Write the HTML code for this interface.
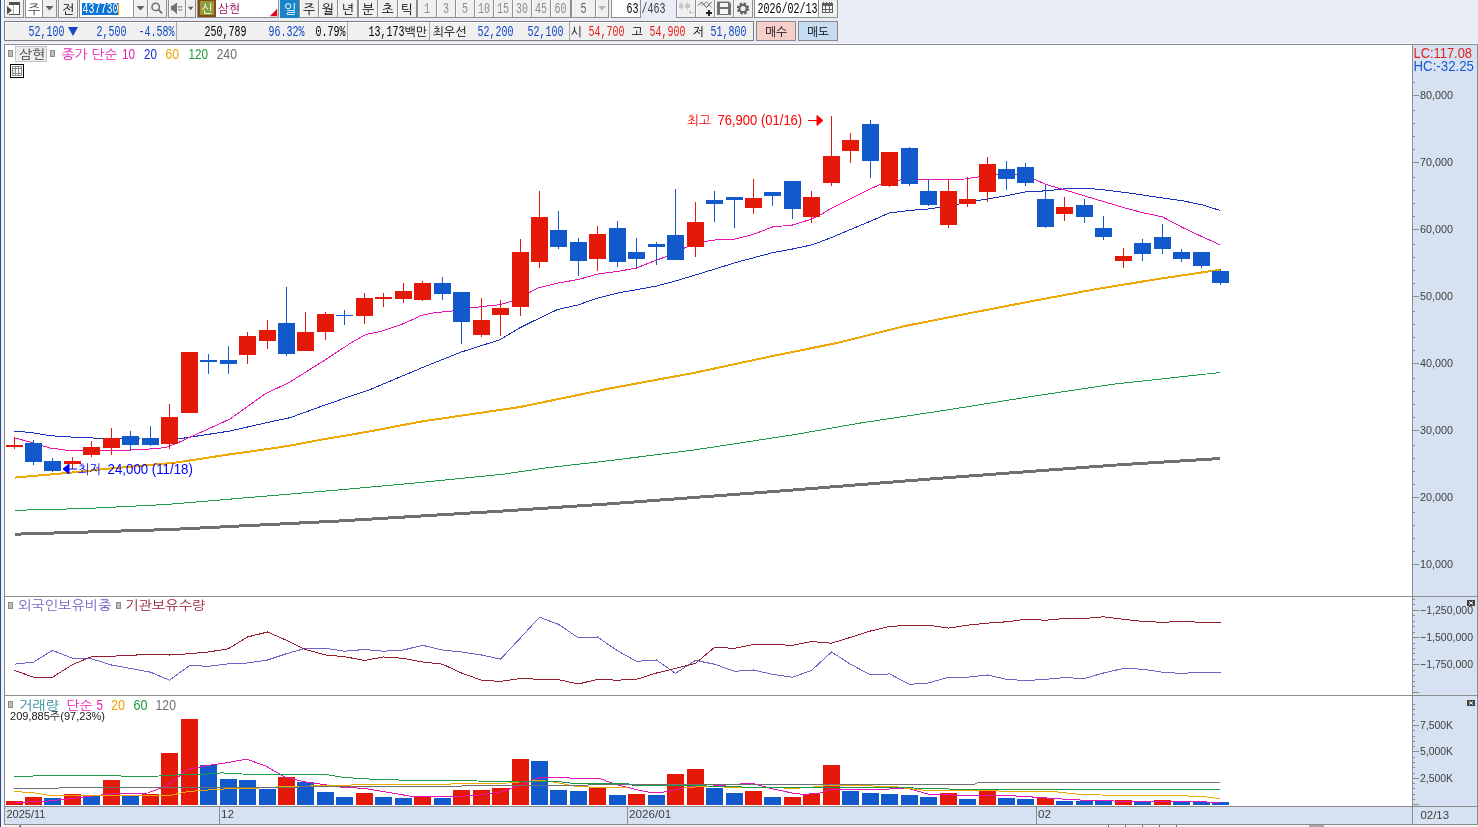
<!DOCTYPE html>
<html lang="ko"><head><meta charset="utf-8"><title>삼현 437730 일봉 차트</title>
<style>html,body{margin:0;padding:0;background:#e7ecf5;overflow:hidden}svg{display:block}text{white-space:pre}</style>
</head><body>
<svg width="1478" height="827" viewBox="0 0 1478 827" font-family='"Liberation Sans","NanumGothic","Noto Sans CJK KR",sans-serif' shape-rendering="crispEdges">
<rect x="0" y="0" width="1478" height="827" fill="#e7ecf5" />
<rect x="0" y="0" width="1" height="827" fill="#2a4a8c" />
<rect x="1" y="0" width="3" height="827" fill="#eef1f7" />
<rect x="4" y="-1" width="20" height="19" fill="#8e8e8e" />
<rect x="5" y="0" width="18" height="17" fill="#f0f0f0" />
<rect x="5" y="0" width="1" height="17" fill="#fbfbfb" />
<rect x="9" y="3" width="10" height="11" fill="#fff" />
<rect x="9" y="2" width="11" height="3" fill="#505050" />
<path d="M19 4h1v11H9v-1h10z" fill="#505050"/>
<rect x="13" y="5" width="1" height="9" fill="#b0b0b0" />
<path d="M7 6l5 4.300-5 4.300z" fill="#505050" shape-rendering="auto"/>
<rect x="25" y="-1" width="32" height="19" fill="#8e8e8e" />
<rect x="26" y="0" width="30" height="17" fill="#f0f0f0" />
<rect x="26" y="0" width="1" height="17" fill="#fbfbfb" />
<rect x="26" y="0" width="16" height="17" fill="#fff" />
<rect x="42" y="0" width="1" height="17" fill="#8e8e8e" />
<text x="34" y="13.5" font-size="13" fill="#404040" text-anchor="middle" >주</text>
<path d="M45.500 6h8l-4 4.500z" fill="#606060" shape-rendering="auto"/>
<rect x="58" y="-1" width="20" height="19" fill="#8e8e8e" />
<rect x="59" y="0" width="18" height="17" fill="#f0f0f0" />
<rect x="59" y="0" width="1" height="17" fill="#fbfbfb" />
<text x="68" y="13.5" font-size="13" fill="#000" text-anchor="middle" >전</text>
<rect x="79" y="-1" width="55" height="19" fill="#8e8e8e" />
<rect x="80" y="0" width="53" height="17" fill="#fff" />
<rect x="82" y="3" width="36" height="12" fill="#0b74d4" />
<rect x="118" y="3" width="1" height="12" fill="#ff8a00" />
<text x="82.5" y="13" font-size="14" fill="#fff" textLength="36" lengthAdjust="spacingAndGlyphs" font-family="Liberation Mono,monospace">437730</text>
<rect x="133" y="-1" width="15" height="19" fill="#8e8e8e" />
<rect x="134" y="0" width="13" height="17" fill="#f0f0f0" />
<rect x="134" y="0" width="1" height="17" fill="#fbfbfb" />
<path d="M136.500 6h8l-4 4.500z" fill="#606060" shape-rendering="auto"/>
<rect x="147" y="-1" width="20" height="19" fill="#8e8e8e" />
<rect x="148" y="0" width="18" height="17" fill="#f0f0f0" />
<rect x="148" y="0" width="1" height="17" fill="#fbfbfb" />
<g shape-rendering="auto" fill="none" stroke="#707070" stroke-width="1.500"><circle cx="155.700" cy="6.900" r="3.700"/><path d="M158.500 9.700l3.500 3.700" stroke-width="1.800"/></g>
<rect x="168" y="-1" width="18" height="19" fill="#8e8e8e" />
<rect x="169" y="0" width="16" height="17" fill="#f0f0f0" />
<rect x="169" y="0" width="1" height="17" fill="#fbfbfb" />
<rect x="185" y="-1" width="11" height="19" fill="#8e8e8e" />
<rect x="186" y="0" width="9" height="17" fill="#f0f0f0" />
<rect x="186" y="0" width="1" height="17" fill="#fbfbfb" />
<g shape-rendering="auto" fill="#707070"><path d="M171 5.700h1.500l4.500-3.200v11.500l-4.500-3.700h-1.500z"/><rect x="178.300" y="6" width="1.300" height="1.600"/><rect x="178.300" y="9" width="1.300" height="1.600"/><rect x="180.600" y="6" width="1.300" height="1.600"/><rect x="180.600" y="9" width="1.300" height="1.600"/><path d="M188 6.700h5.400l-2.700 3.500z" fill="#606060"/></g>
<rect x="197" y="-1" width="82" height="19" fill="#8e8e8e" />
<rect x="198" y="0" width="80" height="17" fill="#fff" />
<rect x="198" y="-1" width="18" height="18" fill="#8b4a12" />
<rect x="200" y="1" width="14" height="14" fill="#8c9c3c" />
<text x="207" y="12.5" font-size="12" fill="#fff" text-anchor="middle" >신</text>
<text x="218" y="12.5" font-size="12" fill="#960a50" textLength="22" lengthAdjust="spacingAndGlyphs" >삼현</text>
<path d="M277.200 8.800v7.400h-7.400z" fill="#e00a1e" shape-rendering="auto"/>
<rect x="280" y="-1" width="20" height="19" fill="#1a84c8" />
<rect x="281" y="0" width="18" height="17" fill="#1a84c8" />
<text x="290.0" y="13.5" font-size="13" fill="#fff" text-anchor="middle" >일</text>
<rect x="299" y="-1" width="20" height="19" fill="#8e8e8e" />
<rect x="300" y="0" width="18" height="17" fill="#f0f0f0" />
<rect x="300" y="0" width="1" height="17" fill="#fbfbfb" />
<text x="309.0" y="13.5" font-size="13" fill="#000" text-anchor="middle" >주</text>
<rect x="318" y="-1" width="20" height="19" fill="#8e8e8e" />
<rect x="319" y="0" width="18" height="17" fill="#f0f0f0" />
<rect x="319" y="0" width="1" height="17" fill="#fbfbfb" />
<text x="328.0" y="13.5" font-size="13" fill="#000" text-anchor="middle" >월</text>
<rect x="337" y="-1" width="21" height="19" fill="#8e8e8e" />
<rect x="338" y="0" width="19" height="17" fill="#f0f0f0" />
<rect x="338" y="0" width="1" height="17" fill="#fbfbfb" />
<text x="347.5" y="13.5" font-size="13" fill="#000" text-anchor="middle" >년</text>
<rect x="358" y="-1" width="20" height="19" fill="#8e8e8e" />
<rect x="359" y="0" width="18" height="17" fill="#f0f0f0" />
<rect x="359" y="0" width="1" height="17" fill="#fbfbfb" />
<text x="368.0" y="13.5" font-size="13" fill="#000" text-anchor="middle" >분</text>
<rect x="377" y="-1" width="21" height="19" fill="#8e8e8e" />
<rect x="378" y="0" width="19" height="17" fill="#f0f0f0" />
<rect x="378" y="0" width="1" height="17" fill="#fbfbfb" />
<text x="387.5" y="13.5" font-size="13" fill="#000" text-anchor="middle" >초</text>
<rect x="397" y="-1" width="20" height="19" fill="#8e8e8e" />
<rect x="398" y="0" width="18" height="17" fill="#f0f0f0" />
<rect x="398" y="0" width="1" height="17" fill="#fbfbfb" />
<text x="407.0" y="13.5" font-size="13" fill="#000" text-anchor="middle" >틱</text>
<rect x="417" y="-1" width="20" height="19" fill="#8e8e8e" />
<rect x="418" y="0" width="18" height="17" fill="#f0f0f0" />
<rect x="418" y="0" width="1" height="17" fill="#fbfbfb" />
<text x="424.0" y="13" font-size="14" fill="#8c8c8c" textLength="6" lengthAdjust="spacingAndGlyphs" font-family="Liberation Mono,monospace">1</text>
<rect x="436" y="-1" width="20" height="19" fill="#8e8e8e" />
<rect x="437" y="0" width="18" height="17" fill="#f0f0f0" />
<rect x="437" y="0" width="1" height="17" fill="#fbfbfb" />
<text x="443.0" y="13" font-size="14" fill="#8c8c8c" textLength="6" lengthAdjust="spacingAndGlyphs" font-family="Liberation Mono,monospace">3</text>
<rect x="455" y="-1" width="20" height="19" fill="#8e8e8e" />
<rect x="456" y="0" width="18" height="17" fill="#f0f0f0" />
<rect x="456" y="0" width="1" height="17" fill="#fbfbfb" />
<text x="462.0" y="13" font-size="14" fill="#8c8c8c" textLength="6" lengthAdjust="spacingAndGlyphs" font-family="Liberation Mono,monospace">5</text>
<rect x="474" y="-1" width="20" height="19" fill="#8e8e8e" />
<rect x="475" y="0" width="18" height="17" fill="#f0f0f0" />
<rect x="475" y="0" width="1" height="17" fill="#fbfbfb" />
<text x="478.0" y="13" font-size="14" fill="#8c8c8c" textLength="12" lengthAdjust="spacingAndGlyphs" font-family="Liberation Mono,monospace">10</text>
<rect x="493" y="-1" width="20" height="19" fill="#8e8e8e" />
<rect x="494" y="0" width="18" height="17" fill="#f0f0f0" />
<rect x="494" y="0" width="1" height="17" fill="#fbfbfb" />
<text x="497.0" y="13" font-size="14" fill="#8c8c8c" textLength="12" lengthAdjust="spacingAndGlyphs" font-family="Liberation Mono,monospace">15</text>
<rect x="512" y="-1" width="20" height="19" fill="#8e8e8e" />
<rect x="513" y="0" width="18" height="17" fill="#f0f0f0" />
<rect x="513" y="0" width="1" height="17" fill="#fbfbfb" />
<text x="516.0" y="13" font-size="14" fill="#8c8c8c" textLength="12" lengthAdjust="spacingAndGlyphs" font-family="Liberation Mono,monospace">30</text>
<rect x="531" y="-1" width="20" height="19" fill="#8e8e8e" />
<rect x="532" y="0" width="18" height="17" fill="#f0f0f0" />
<rect x="532" y="0" width="1" height="17" fill="#fbfbfb" />
<text x="535.0" y="13" font-size="14" fill="#8c8c8c" textLength="12" lengthAdjust="spacingAndGlyphs" font-family="Liberation Mono,monospace">45</text>
<rect x="550" y="-1" width="21" height="19" fill="#8e8e8e" />
<rect x="551" y="0" width="19" height="17" fill="#f0f0f0" />
<rect x="551" y="0" width="1" height="17" fill="#fbfbfb" />
<text x="554.5" y="13" font-size="14" fill="#8c8c8c" textLength="12" lengthAdjust="spacingAndGlyphs" font-family="Liberation Mono,monospace">60</text>
<rect x="571" y="-1" width="25" height="19" fill="#8e8e8e" />
<rect x="572" y="0" width="23" height="17" fill="#f0f0f0" />
<rect x="572" y="0" width="1" height="17" fill="#fbfbfb" />
<text x="580.5" y="13" font-size="14" fill="#606060" textLength="6" lengthAdjust="spacingAndGlyphs" font-family="Liberation Mono,monospace">5</text>
<rect x="595" y="-1" width="14" height="19" fill="#8e8e8e" />
<rect x="596" y="0" width="12" height="17" fill="#f0f0f0" />
<rect x="596" y="0" width="1" height="17" fill="#fbfbfb" />
<path d="M598 6h8l-4 4.500z" fill="#b4b4b4" shape-rendering="auto"/>
<rect x="611" y="-1" width="30" height="19" fill="#8e8e8e" />
<rect x="612" y="0" width="28" height="17" fill="#fff" />
<text x="626.5" y="13" font-size="14" fill="#000" textLength="12" lengthAdjust="spacingAndGlyphs" font-family="Liberation Mono,monospace">63</text>
<text x="641.5" y="13" font-size="14" fill="#404040" textLength="24" lengthAdjust="spacingAndGlyphs" font-family="Liberation Mono,monospace">/463</text>
<rect x="676" y="-1" width="20" height="19" fill="#8e8e8e" />
<rect x="677" y="0" width="18" height="17" fill="#f0f0f0" />
<rect x="677" y="0" width="1" height="17" fill="#fbfbfb" />
<rect x="695" y="-1" width="20" height="19" fill="#8e8e8e" />
<rect x="696" y="0" width="18" height="17" fill="#f0f0f0" />
<rect x="696" y="0" width="1" height="17" fill="#fbfbfb" />
<rect x="714" y="-1" width="20" height="19" fill="#8e8e8e" />
<rect x="715" y="0" width="18" height="17" fill="#f0f0f0" />
<rect x="715" y="0" width="1" height="17" fill="#fbfbfb" />
<rect x="733" y="-1" width="20" height="19" fill="#8e8e8e" />
<rect x="734" y="0" width="18" height="17" fill="#f0f0f0" />
<rect x="734" y="0" width="1" height="17" fill="#fbfbfb" />
<g fill="#c6c6c6"><rect x="679" y="4" width="4" height="4"/><rect x="681" y="2" width="1" height="8"/><rect x="685" y="4" width="5" height="4"/><rect x="687" y="2" width="1" height="8"/><path d="M688 12l3-2.500v2h2.500v1h-2.500v2z"/></g>
<g shape-rendering="auto" fill="none" stroke-width="1"><path d="M698 5.500l3.500-3.500 5 5.500 5-5.500" stroke="#505050"/><path d="M701.500 5.500l5-3.500 5 5.500" stroke="#8a8a8a"/></g>
<path d="M706 11.500h2v-2h2v2h2v2h-2v2h-2v-2h-2z" fill="#202020"/>
<g><path d="M717 1.500h12l2 2v11.500h-14z" fill="#707070" shape-rendering="auto"/><rect x="720" y="2.500" width="8" height="4" fill="#f4f4f4"/><rect x="720" y="9" width="8" height="5" fill="#f4f4f4"/></g>
<g shape-rendering="auto"><circle cx="743" cy="8.500" r="4.800" fill="none" stroke="#606060" stroke-width="2.600" stroke-dasharray="2.300 1.470"/><circle cx="743" cy="8.500" r="3.600" fill="none" stroke="#606060" stroke-width="2"/></g>
<rect x="754" y="-1" width="65" height="19" fill="#8e8e8e" />
<rect x="755" y="0" width="63" height="17" fill="#fff" />
<text x="757.5" y="13" font-size="14" fill="#000" textLength="60" lengthAdjust="spacingAndGlyphs" font-family="Liberation Mono,monospace">2026/02/13</text>
<rect x="818" y="-1" width="20" height="19" fill="#8e8e8e" />
<rect x="819" y="0" width="18" height="17" fill="#f0f0f0" />
<rect x="819" y="0" width="1" height="17" fill="#fbfbfb" />
<g fill="#606060"><rect x="822" y="3" width="11" height="10"/><rect x="823" y="2" width="1" height="1"/><rect x="826" y="2" width="1" height="1"/><rect x="829" y="2" width="1" height="1"/><rect x="831" y="2" width="1" height="1"/></g>
<rect x="823" y="6" width="2" height="3" fill="#f4f4f4" />
<rect x="823" y="10" width="2" height="2" fill="#f4f4f4" />
<rect x="826" y="6" width="3" height="3" fill="#f4f4f4" />
<rect x="826" y="10" width="3" height="2" fill="#f4f4f4" />
<rect x="830" y="6" width="2" height="3" fill="#f4f4f4" />
<rect x="830" y="10" width="2" height="2" fill="#f4f4f4" />
<rect x="4" y="21" width="750" height="20" fill="#7c7c7c" />
<rect x="5" y="22" width="748" height="18" fill="#f0f0f0" />
<rect x="5" y="22" width="748" height="1" fill="#fbfbfb" />
<rect x="5" y="22" width="1" height="18" fill="#fbfbfb" />
<rect x="176" y="22" width="1" height="18" fill="#a8a8a8" />
<rect x="347" y="22" width="1" height="18" fill="#a8a8a8" />
<rect x="429" y="22" width="1" height="18" fill="#a8a8a8" />
<rect x="569" y="22" width="1" height="18" fill="#a8a8a8" />
<text x="28.5" y="36" font-size="15" fill="#1046c8" textLength="36" lengthAdjust="spacingAndGlyphs" font-family="Liberation Mono,monospace">52,100</text>
<path d="M68 27h10l-5 9z" fill="#1046c8" shape-rendering="auto"/>
<text x="96.5" y="36" font-size="15" fill="#1046c8" textLength="30" lengthAdjust="spacingAndGlyphs" font-family="Liberation Mono,monospace">2,500</text>
<text x="138.5" y="36" font-size="15" fill="#1046c8" textLength="36" lengthAdjust="spacingAndGlyphs" font-family="Liberation Mono,monospace">-4.58%</text>
<text x="204.5" y="36" font-size="15" fill="#000" textLength="42" lengthAdjust="spacingAndGlyphs" font-family="Liberation Mono,monospace">250,789</text>
<text x="268.5" y="36" font-size="15" fill="#1046c8" textLength="36" lengthAdjust="spacingAndGlyphs" font-family="Liberation Mono,monospace">96.32%</text>
<text x="315.5" y="36" font-size="15" fill="#000" textLength="30" lengthAdjust="spacingAndGlyphs" font-family="Liberation Mono,monospace">0.79%</text>
<text x="368.5" y="36" font-size="15" fill="#000" textLength="36" lengthAdjust="spacingAndGlyphs" font-family="Liberation Mono,monospace">13,173</text>
<text x="404.5" y="36" font-size="12" fill="#000" textLength="22.5" lengthAdjust="spacingAndGlyphs" >백만</text>
<text x="432.5" y="36" font-size="12" fill="#000" textLength="34" lengthAdjust="spacingAndGlyphs" >최우선</text>
<text x="477.5" y="36" font-size="15" fill="#1046c8" textLength="36" lengthAdjust="spacingAndGlyphs" font-family="Liberation Mono,monospace">52,200</text>
<text x="527.5" y="36" font-size="15" fill="#1046c8" textLength="36" lengthAdjust="spacingAndGlyphs" font-family="Liberation Mono,monospace">52,100</text>
<text x="570.5" y="36" font-size="12" fill="#000" >시</text>
<text x="588.5" y="36" font-size="15" fill="#e61e14" textLength="36" lengthAdjust="spacingAndGlyphs" font-family="Liberation Mono,monospace">54,700</text>
<text x="631.5" y="36" font-size="12" fill="#000" >고</text>
<text x="649.5" y="36" font-size="15" fill="#e61e14" textLength="36" lengthAdjust="spacingAndGlyphs" font-family="Liberation Mono,monospace">54,900</text>
<text x="692.5" y="36" font-size="12" fill="#000" >저</text>
<text x="710.5" y="36" font-size="15" fill="#1046c8" textLength="36" lengthAdjust="spacingAndGlyphs" font-family="Liberation Mono,monospace">51,800</text>
<rect x="756" y="21" width="40" height="20" fill="#8a8a8a" />
<rect x="757" y="22" width="38" height="18" fill="#f6cfc9" />
<text x="776" y="35.5" font-size="12" fill="#000" textLength="22" lengthAdjust="spacingAndGlyphs" text-anchor="middle" >매수</text>
<rect x="798" y="21" width="40" height="20" fill="#8a8a8a" />
<rect x="799" y="22" width="38" height="18" fill="#c6dcf3" />
<text x="818" y="35.5" font-size="12" fill="#000" textLength="22" lengthAdjust="spacingAndGlyphs" text-anchor="middle" >매도</text>
<rect x="4" y="43" width="1474" height="1" fill="#f6f7fa" />
<rect x="4" y="44" width="1474" height="781" fill="#8c8c8c" />
<rect x="5" y="45" width="1407" height="761" fill="#fff" />
<rect x="1413" y="45" width="64" height="761" fill="#d6e2f1" />
<rect x="5" y="807" width="1472" height="17" fill="#d6e2f1" />
<rect x="5" y="596" width="1472" height="1" fill="#8c8c8c" />
<rect x="5" y="695" width="1472" height="1" fill="#8c8c8c" />
<rect x="1412" y="806" width="1" height="19" fill="#8c8c8c" />
<rect x="1" y="825" width="1477" height="2" fill="#f3f3f3" />
<rect x="21" y="825" width="940" height="2" fill="#ebebeb" />
<rect x="20" y="825" width="1" height="2" fill="#606060" />
<rect x="19" y="826" width="1" height="1" fill="#606060" />
<rect x="1108" y="825" width="1" height="2" fill="#707070" />
<rect x="1125" y="825" width="1" height="2" fill="#707070" />
<rect x="1142" y="825" width="1" height="2" fill="#707070" />
<rect x="1159" y="825" width="1" height="2" fill="#707070" />
<rect x="1176" y="825" width="1" height="2" fill="#707070" />
<rect x="1309" y="825" width="15" height="2" fill="#a8a8a8" />
<rect x="1413" y="95" width="6" height="1" fill="#8c8c8c" />
<text x="1420" y="99" font-size="11" fill="#404040" textLength="33" lengthAdjust="spacingAndGlyphs" >80,000</text>
<rect x="1413" y="162" width="6" height="1" fill="#8c8c8c" />
<text x="1420" y="166" font-size="11" fill="#404040" textLength="33" lengthAdjust="spacingAndGlyphs" >70,000</text>
<rect x="1413" y="149" width="2" height="1" fill="#8c8c8c" />
<rect x="1413" y="136" width="2" height="1" fill="#8c8c8c" />
<rect x="1413" y="123" width="2" height="1" fill="#8c8c8c" />
<rect x="1413" y="110" width="2" height="1" fill="#8c8c8c" />
<rect x="1413" y="229" width="6" height="1" fill="#8c8c8c" />
<text x="1420" y="233" font-size="11" fill="#404040" textLength="33" lengthAdjust="spacingAndGlyphs" >60,000</text>
<rect x="1413" y="216" width="2" height="1" fill="#8c8c8c" />
<rect x="1413" y="203" width="2" height="1" fill="#8c8c8c" />
<rect x="1413" y="190" width="2" height="1" fill="#8c8c8c" />
<rect x="1413" y="177" width="2" height="1" fill="#8c8c8c" />
<rect x="1413" y="296" width="6" height="1" fill="#8c8c8c" />
<text x="1420" y="300" font-size="11" fill="#404040" textLength="33" lengthAdjust="spacingAndGlyphs" >50,000</text>
<rect x="1413" y="283" width="2" height="1" fill="#8c8c8c" />
<rect x="1413" y="270" width="2" height="1" fill="#8c8c8c" />
<rect x="1413" y="257" width="2" height="1" fill="#8c8c8c" />
<rect x="1413" y="244" width="2" height="1" fill="#8c8c8c" />
<rect x="1413" y="363" width="6" height="1" fill="#8c8c8c" />
<text x="1420" y="367" font-size="11" fill="#404040" textLength="33" lengthAdjust="spacingAndGlyphs" >40,000</text>
<rect x="1413" y="350" width="2" height="1" fill="#8c8c8c" />
<rect x="1413" y="337" width="2" height="1" fill="#8c8c8c" />
<rect x="1413" y="324" width="2" height="1" fill="#8c8c8c" />
<rect x="1413" y="311" width="2" height="1" fill="#8c8c8c" />
<rect x="1413" y="430" width="6" height="1" fill="#8c8c8c" />
<text x="1420" y="434" font-size="11" fill="#404040" textLength="33" lengthAdjust="spacingAndGlyphs" >30,000</text>
<rect x="1413" y="417" width="2" height="1" fill="#8c8c8c" />
<rect x="1413" y="404" width="2" height="1" fill="#8c8c8c" />
<rect x="1413" y="391" width="2" height="1" fill="#8c8c8c" />
<rect x="1413" y="378" width="2" height="1" fill="#8c8c8c" />
<rect x="1413" y="497" width="6" height="1" fill="#8c8c8c" />
<text x="1420" y="501" font-size="11" fill="#404040" textLength="33" lengthAdjust="spacingAndGlyphs" >20,000</text>
<rect x="1413" y="484" width="2" height="1" fill="#8c8c8c" />
<rect x="1413" y="471" width="2" height="1" fill="#8c8c8c" />
<rect x="1413" y="458" width="2" height="1" fill="#8c8c8c" />
<rect x="1413" y="445" width="2" height="1" fill="#8c8c8c" />
<rect x="1413" y="564" width="6" height="1" fill="#8c8c8c" />
<text x="1420" y="568" font-size="11" fill="#404040" textLength="33" lengthAdjust="spacingAndGlyphs" >10,000</text>
<rect x="1413" y="551" width="2" height="1" fill="#8c8c8c" />
<rect x="1413" y="538" width="2" height="1" fill="#8c8c8c" />
<rect x="1413" y="525" width="2" height="1" fill="#8c8c8c" />
<rect x="1413" y="512" width="2" height="1" fill="#8c8c8c" />
<rect x="1413" y="82" width="2" height="1" fill="#8c8c8c" />
<text x="1413.5" y="58" font-size="14.5" fill="#e61e14" textLength="58.5" lengthAdjust="spacingAndGlyphs" >LC:117.08</text>
<text x="1413.5" y="71" font-size="14.5" fill="#145ad2" textLength="60.5" lengthAdjust="spacingAndGlyphs" >HC:-32.25</text>
<rect x="1413" y="599" width="2" height="1" fill="#8c8c8c" />
<rect x="1413" y="604" width="2" height="1" fill="#8c8c8c" />
<rect x="1413" y="610" width="6" height="1" fill="#8c8c8c" />
<text x="1420" y="614" font-size="11" fill="#404040" textLength="53" lengthAdjust="spacingAndGlyphs" >−1,250,000</text>
<rect x="1413" y="615" width="2" height="1" fill="#8c8c8c" />
<rect x="1413" y="621" width="2" height="1" fill="#8c8c8c" />
<rect x="1413" y="626" width="2" height="1" fill="#8c8c8c" />
<rect x="1413" y="632" width="2" height="1" fill="#8c8c8c" />
<rect x="1413" y="637" width="6" height="1" fill="#8c8c8c" />
<text x="1420" y="641" font-size="11" fill="#404040" textLength="53" lengthAdjust="spacingAndGlyphs" >−1,500,000</text>
<rect x="1413" y="643" width="2" height="1" fill="#8c8c8c" />
<rect x="1413" y="648" width="2" height="1" fill="#8c8c8c" />
<rect x="1413" y="653" width="2" height="1" fill="#8c8c8c" />
<rect x="1413" y="659" width="2" height="1" fill="#8c8c8c" />
<rect x="1413" y="664" width="6" height="1" fill="#8c8c8c" />
<text x="1420" y="668" font-size="11" fill="#404040" textLength="53" lengthAdjust="spacingAndGlyphs" >−1,750,000</text>
<rect x="1413" y="670" width="2" height="1" fill="#8c8c8c" />
<rect x="1413" y="675" width="2" height="1" fill="#8c8c8c" />
<rect x="1413" y="681" width="2" height="1" fill="#8c8c8c" />
<rect x="1413" y="686" width="2" height="1" fill="#8c8c8c" />
<rect x="1413" y="692" width="2" height="1" fill="#8c8c8c" />
<rect x="1413" y="692" width="6" height="1" fill="#8c8c8c" />
<rect x="1413" y="704" width="2" height="1" fill="#8c8c8c" />
<rect x="1413" y="709" width="2" height="1" fill="#8c8c8c" />
<rect x="1413" y="714" width="2" height="1" fill="#8c8c8c" />
<rect x="1413" y="720" width="2" height="1" fill="#8c8c8c" />
<rect x="1413" y="725" width="6" height="1" fill="#8c8c8c" />
<text x="1420" y="729" font-size="11" fill="#404040" textLength="33" lengthAdjust="spacingAndGlyphs" >7,500K</text>
<rect x="1413" y="730" width="2" height="1" fill="#8c8c8c" />
<rect x="1413" y="736" width="2" height="1" fill="#8c8c8c" />
<rect x="1413" y="741" width="2" height="1" fill="#8c8c8c" />
<rect x="1413" y="746" width="2" height="1" fill="#8c8c8c" />
<rect x="1413" y="751" width="6" height="1" fill="#8c8c8c" />
<text x="1420" y="755" font-size="11" fill="#404040" textLength="33" lengthAdjust="spacingAndGlyphs" >5,000K</text>
<rect x="1413" y="757" width="2" height="1" fill="#8c8c8c" />
<rect x="1413" y="762" width="2" height="1" fill="#8c8c8c" />
<rect x="1413" y="767" width="2" height="1" fill="#8c8c8c" />
<rect x="1413" y="773" width="2" height="1" fill="#8c8c8c" />
<rect x="1413" y="778" width="6" height="1" fill="#8c8c8c" />
<text x="1420" y="782" font-size="11" fill="#404040" textLength="33" lengthAdjust="spacingAndGlyphs" >2,500K</text>
<rect x="1413" y="783" width="2" height="1" fill="#8c8c8c" />
<rect x="1413" y="788" width="2" height="1" fill="#8c8c8c" />
<rect x="1413" y="794" width="2" height="1" fill="#8c8c8c" />
<rect x="1413" y="799" width="2" height="1" fill="#8c8c8c" />
<rect x="1413" y="804" width="6" height="1" fill="#8c8c8c" />
<rect x="1467" y="600" width="8" height="6" fill="#404040" />
<path d="M1469 601.5l4 3m0-3l-4 3" stroke="#fff" stroke-width="1" shape-rendering="auto"/>
<rect x="1467" y="700" width="8" height="6" fill="#404040" />
<path d="M1469 701.5l4 3m0-3l-4 3" stroke="#fff" stroke-width="1" shape-rendering="auto"/>
<rect x="219" y="807" width="1" height="17" fill="#8c8c8c" />
<text x="221" y="818" font-size="11.7" fill="#404040" >12</text>
<rect x="627" y="807" width="1" height="17" fill="#8c8c8c" />
<text x="629" y="818" font-size="11.7" fill="#404040" >2026/01</text>
<rect x="1036" y="807" width="1" height="17" fill="#8c8c8c" />
<text x="1038" y="818" font-size="11.7" fill="#404040" >02</text>
<text x="6.5" y="818" font-size="11.7" fill="#404040" textLength="39" lengthAdjust="spacingAndGlyphs" >2025/11</text>
<text x="1420.5" y="819" font-size="11.7" fill="#404040" textLength="28.5" lengthAdjust="spacingAndGlyphs" >02/13</text>
<polyline points="14.7,534.2 167.8,529.6 335.6,521.2 503.4,511.0 610.0,503.8 777.8,491.2 945.6,477.8 1113.4,465.2 1220.3,458.5" fill="none" stroke="#707070" stroke-width="3" />
<polyline points="14.7,510.3 84.0,508.6 167.8,504.4 251.7,497.3 335.6,490.2 419.5,482.6 503.4,474.2 545.3,468.0 610.0,460.6 694.0,450.0 794.6,434.6 861.7,422.8 945.6,410.2 1029.5,396.8 1113.4,384.2 1220.3,372.5" fill="none" stroke="#1e9a46" stroke-width="1" />
<polyline points="14.7,477.6 70.0,472.7 105.0,469.0 175.0,462.7 210.0,457.4 225.0,455.0 275.0,448.0 293.6,444.9 325.0,439.0 370.0,431.4 419.5,421.8 520.0,407.0 610.0,388.4 694.0,372.9 777.8,354.9 836.5,343.1 903.6,326.3 966.5,313.8 1029.5,301.6 1092.4,289.8 1155.3,279.4 1220.3,269.7" fill="none" stroke="#eca800" stroke-width="2" />
<polyline points="14.0,431.0 32.5,432.7 50.0,435.7 82.6,437.7 110.0,438.5 140.0,439.0 165.0,439.0 180.0,438.7 195.0,436.4 230.0,431.0 265.0,423.0 290.0,417.7 325.0,405.0 350.0,396.4 370.0,389.6 425.0,366.5 461.4,352.0 500.0,339.7 520.0,327.7 537.7,319.0 557.8,309.4 577.8,305.0 597.8,298.0 617.8,293.0 636.6,289.7 656.6,286.0 675.4,281.0 695.4,275.0 715.0,269.0 735.0,262.7 752.6,258.0 772.6,252.7 792.6,249.0 812.6,244.7 832.7,237.0 850.0,229.7 870.0,221.4 889.0,213.0 907.8,210.6 927.8,209.0 947.8,206.4 967.8,202.0 987.9,198.9 1005.4,195.9 1025.4,192.0 1046.0,190.8 1065.0,188.8 1087.6,188.3 1105.0,190.0 1125.0,192.5 1142.6,195.0 1162.7,198.0 1182.7,200.8 1202.7,205.0 1219.7,210.3" fill="none" stroke="#1a32b9" stroke-width="1" />
<polyline points="14.0,437.7 32.5,442.7 50.0,448.0 65.0,450.0 82.6,450.7 110.0,450.7 140.0,449.7 165.0,447.7 175.0,444.0 195.0,435.0 230.0,419.0 265.0,394.0 290.0,382.0 325.0,360.0 350.0,343.5 365.5,334.6 382.5,331.0 402.5,324.0 422.6,315.0 435.0,312.7 452.6,311.0 470.0,308.0 490.0,305.7 500.0,304.7 511.5,301.4 525.0,295.0 537.7,288.0 557.8,283.0 577.8,279.6 597.8,274.0 617.8,271.4 636.6,268.0 656.6,260.0 665.4,257.0 685.4,247.6 705.4,241.4 715.0,240.0 735.0,239.0 752.6,234.7 772.6,227.0 792.6,225.0 810.0,219.6 820.0,215.0 832.7,207.6 850.0,199.0 870.0,189.0 880.0,184.6 890.0,182.0 900.0,180.0 965.0,179.0 977.8,177.0 997.9,174.6 1018.0,174.6 1034.0,179.0 1046.0,184.5 1065.0,190.0 1085.0,196.0 1105.0,202.0 1125.0,208.0 1142.6,212.6 1162.7,217.0 1182.7,227.6 1202.7,237.0 1219.7,244.6" fill="none" stroke="#e614b4" stroke-width="1" />
<rect x="14" y="437" width="1" height="12" fill="#e5190a" />
<rect x="6" y="445" width="17" height="2" fill="#e5190a" />
<rect x="33" y="440" width="1" height="25" fill="#125acc" />
<rect x="25" y="443" width="17" height="19" fill="#125acc" />
<rect x="52" y="458" width="1" height="14" fill="#125acc" />
<rect x="44" y="461" width="17" height="10" fill="#125acc" />
<rect x="72" y="457" width="1" height="12" fill="#e5190a" />
<rect x="64" y="461" width="17" height="3" fill="#e5190a" />
<rect x="91" y="441" width="1" height="16" fill="#e5190a" />
<rect x="83" y="447" width="17" height="8" fill="#e5190a" />
<rect x="111" y="428" width="1" height="27" fill="#e5190a" />
<rect x="103" y="438" width="17" height="10" fill="#e5190a" />
<rect x="130" y="431" width="1" height="19" fill="#125acc" />
<rect x="122" y="436" width="17" height="9" fill="#125acc" />
<rect x="150" y="426" width="1" height="20" fill="#125acc" />
<rect x="142" y="438" width="17" height="7" fill="#125acc" />
<rect x="169" y="404" width="1" height="45" fill="#e5190a" />
<rect x="161" y="417" width="17" height="27" fill="#e5190a" />
<rect x="189" y="352" width="1" height="61" fill="#e5190a" />
<rect x="181" y="352" width="17" height="61" fill="#e5190a" />
<rect x="208" y="354" width="1" height="20" fill="#125acc" />
<rect x="200" y="360" width="17" height="2" fill="#125acc" />
<rect x="228" y="346" width="1" height="28" fill="#125acc" />
<rect x="220" y="360" width="17" height="4" fill="#125acc" />
<rect x="247" y="332" width="1" height="32" fill="#e5190a" />
<rect x="239" y="336" width="17" height="19" fill="#e5190a" />
<rect x="267" y="320" width="1" height="29" fill="#e5190a" />
<rect x="259" y="330" width="17" height="11" fill="#e5190a" />
<rect x="286" y="287" width="1" height="69" fill="#125acc" />
<rect x="278" y="323" width="17" height="31" fill="#125acc" />
<rect x="305" y="312" width="1" height="39" fill="#e5190a" />
<rect x="297" y="332" width="17" height="19" fill="#e5190a" />
<rect x="325" y="312" width="1" height="28" fill="#e5190a" />
<rect x="317" y="314" width="17" height="18" fill="#e5190a" />
<rect x="344" y="310" width="1" height="15" fill="#125acc" />
<rect x="336" y="315" width="17" height="1" fill="#125acc" />
<rect x="364" y="293" width="1" height="31" fill="#e5190a" />
<rect x="356" y="298" width="17" height="18" fill="#e5190a" />
<rect x="383" y="293" width="1" height="14" fill="#e5190a" />
<rect x="375" y="297" width="17" height="2" fill="#e5190a" />
<rect x="403" y="283" width="1" height="20" fill="#e5190a" />
<rect x="395" y="291" width="17" height="8" fill="#e5190a" />
<rect x="422" y="281" width="1" height="20" fill="#e5190a" />
<rect x="414" y="283" width="17" height="17" fill="#e5190a" />
<rect x="442" y="277" width="1" height="23" fill="#125acc" />
<rect x="434" y="283" width="17" height="11" fill="#125acc" />
<rect x="461" y="292" width="1" height="52" fill="#125acc" />
<rect x="453" y="292" width="17" height="30" fill="#125acc" />
<rect x="481" y="298" width="1" height="39" fill="#e5190a" />
<rect x="473" y="320" width="17" height="15" fill="#e5190a" />
<rect x="500" y="300" width="1" height="36" fill="#e5190a" />
<rect x="492" y="308" width="17" height="7" fill="#e5190a" />
<rect x="520" y="239" width="1" height="77" fill="#e5190a" />
<rect x="512" y="252" width="17" height="55" fill="#e5190a" />
<rect x="539" y="191" width="1" height="77" fill="#e5190a" />
<rect x="531" y="217" width="17" height="45" fill="#e5190a" />
<rect x="558" y="211" width="1" height="38" fill="#125acc" />
<rect x="550" y="230" width="17" height="17" fill="#125acc" />
<rect x="578" y="238" width="1" height="38" fill="#125acc" />
<rect x="570" y="242" width="17" height="19" fill="#125acc" />
<rect x="597" y="226" width="1" height="45" fill="#e5190a" />
<rect x="589" y="234" width="17" height="25" fill="#e5190a" />
<rect x="617" y="221" width="1" height="46" fill="#125acc" />
<rect x="609" y="228" width="17" height="34" fill="#125acc" />
<rect x="636" y="238" width="1" height="30" fill="#125acc" />
<rect x="628" y="252" width="17" height="7" fill="#125acc" />
<rect x="656" y="242" width="1" height="23" fill="#125acc" />
<rect x="648" y="244" width="17" height="3" fill="#125acc" />
<rect x="675" y="189" width="1" height="71" fill="#125acc" />
<rect x="667" y="235" width="17" height="25" fill="#125acc" />
<rect x="695" y="202" width="1" height="55" fill="#e5190a" />
<rect x="687" y="222" width="17" height="25" fill="#e5190a" />
<rect x="714" y="191" width="1" height="31" fill="#125acc" />
<rect x="706" y="200" width="17" height="4" fill="#125acc" />
<rect x="734" y="197" width="1" height="31" fill="#125acc" />
<rect x="726" y="197" width="17" height="3" fill="#125acc" />
<rect x="753" y="179" width="1" height="35" fill="#e5190a" />
<rect x="745" y="198" width="17" height="10" fill="#e5190a" />
<rect x="772" y="192" width="1" height="14" fill="#125acc" />
<rect x="764" y="192" width="17" height="4" fill="#125acc" />
<rect x="792" y="181" width="1" height="38" fill="#125acc" />
<rect x="784" y="181" width="17" height="28" fill="#125acc" />
<rect x="811" y="191" width="1" height="32" fill="#e5190a" />
<rect x="803" y="197" width="17" height="20" fill="#e5190a" />
<rect x="831" y="116" width="1" height="70" fill="#e5190a" />
<rect x="823" y="156" width="17" height="27" fill="#e5190a" />
<rect x="850" y="133" width="1" height="30" fill="#e5190a" />
<rect x="842" y="140" width="17" height="11" fill="#e5190a" />
<rect x="870" y="120" width="1" height="58" fill="#125acc" />
<rect x="862" y="124" width="17" height="37" fill="#125acc" />
<rect x="889" y="152" width="1" height="35" fill="#e5190a" />
<rect x="881" y="152" width="17" height="34" fill="#e5190a" />
<rect x="909" y="147" width="1" height="39" fill="#125acc" />
<rect x="901" y="148" width="17" height="36" fill="#125acc" />
<rect x="928" y="179" width="1" height="27" fill="#125acc" />
<rect x="920" y="191" width="17" height="14" fill="#125acc" />
<rect x="948" y="179" width="1" height="49" fill="#e5190a" />
<rect x="940" y="191" width="17" height="34" fill="#e5190a" />
<rect x="967" y="177" width="1" height="30" fill="#e5190a" />
<rect x="959" y="199" width="17" height="5" fill="#e5190a" />
<rect x="987" y="157" width="1" height="45" fill="#e5190a" />
<rect x="979" y="164" width="17" height="28" fill="#e5190a" />
<rect x="1006" y="161" width="1" height="29" fill="#125acc" />
<rect x="998" y="169" width="17" height="10" fill="#125acc" />
<rect x="1025" y="163" width="1" height="23" fill="#125acc" />
<rect x="1017" y="167" width="17" height="16" fill="#125acc" />
<rect x="1045" y="185" width="1" height="43" fill="#125acc" />
<rect x="1037" y="199" width="17" height="28" fill="#125acc" />
<rect x="1064" y="197" width="1" height="24" fill="#e5190a" />
<rect x="1056" y="207" width="17" height="7" fill="#e5190a" />
<rect x="1084" y="199" width="1" height="24" fill="#125acc" />
<rect x="1076" y="205" width="17" height="12" fill="#125acc" />
<rect x="1103" y="216" width="1" height="24" fill="#125acc" />
<rect x="1095" y="228" width="17" height="9" fill="#125acc" />
<rect x="1123" y="248" width="1" height="20" fill="#e5190a" />
<rect x="1115" y="256" width="17" height="5" fill="#e5190a" />
<rect x="1142" y="239" width="1" height="22" fill="#125acc" />
<rect x="1134" y="243" width="17" height="11" fill="#125acc" />
<rect x="1162" y="224" width="1" height="30" fill="#125acc" />
<rect x="1154" y="237" width="17" height="12" fill="#125acc" />
<rect x="1181" y="249" width="1" height="13" fill="#125acc" />
<rect x="1173" y="252" width="17" height="7" fill="#125acc" />
<rect x="1201" y="252" width="1" height="16" fill="#125acc" />
<rect x="1193" y="252" width="17" height="14" fill="#125acc" />
<rect x="1220" y="269" width="1" height="16" fill="#125acc" />
<rect x="1212" y="271" width="17" height="12" fill="#125acc" />
<text x="686.8" y="125" font-size="13" fill="#ff0000" textLength="24" lengthAdjust="spacingAndGlyphs" >최고</text>
<text x="717.5" y="125" font-size="14.5" fill="#ff0000" textLength="84.7" lengthAdjust="spacingAndGlyphs" >76,900 (01/16)</text>
<path d="M808 120.500h9M817 115.500l6 5-6 5z" stroke="#ff0000" fill="#ff0000" stroke-width="1" shape-rendering="auto"/>
<path d="M69 464l-6 5 6 5zM69 469h8" stroke="#0000ff" fill="#0000ff" stroke-width="1" shape-rendering="auto"/>
<text x="77.8" y="473.5" font-size="13" fill="#0000ff" textLength="23" lengthAdjust="spacingAndGlyphs" >최저</text>
<text x="107.6" y="473.5" font-size="14.5" fill="#0000ff" textLength="85.2" lengthAdjust="spacingAndGlyphs" >24,000 (11/18)</text>
<rect x="8" y="50" width="5" height="7" fill="#8c8c8c" />
<rect x="9" y="51" width="3" height="5" fill="#bdbdbd" />
<rect x="15" y="46" width="32" height="16" fill="#c4c4c4" />
<rect x="16" y="47" width="30" height="14" fill="#ececec" />
<text x="19" y="59" font-size="13" fill="#404040" textLength="26" lengthAdjust="spacingAndGlyphs" >삼현</text>
<rect x="50" y="50" width="5" height="7" fill="#8c8c8c" />
<rect x="51" y="51" width="3" height="5" fill="#bdbdbd" />
<text x="61.5" y="59" font-size="13" fill="#e61eb4" textLength="26" lengthAdjust="spacingAndGlyphs" >종가</text>
<text x="91.5" y="59" font-size="13" fill="#e61eb4" textLength="26" lengthAdjust="spacingAndGlyphs" >단순</text>
<text x="122" y="59" font-size="14.5" fill="#e61eb4" textLength="13" lengthAdjust="spacingAndGlyphs" >10</text>
<text x="144" y="59" font-size="14.5" fill="#1a32c8" textLength="13" lengthAdjust="spacingAndGlyphs" >20</text>
<text x="165.5" y="59" font-size="14.5" fill="#f0a000" textLength="13.5" lengthAdjust="spacingAndGlyphs" >60</text>
<text x="188.5" y="59" font-size="14.5" fill="#1e9a3c" textLength="19.5" lengthAdjust="spacingAndGlyphs" >120</text>
<text x="216.5" y="59" font-size="14.5" fill="#707070" textLength="20.5" lengthAdjust="spacingAndGlyphs" >240</text>
<rect x="10" y="64" width="14" height="14" fill="#000" />
<rect x="11" y="65" width="12" height="12" fill="#fff" />
<rect x="12" y="66" width="10" height="10" fill="#8c8c8c" />
<rect x="13" y="67" width="2" height="1" fill="#fff" />
<rect x="13" y="69" width="2" height="4" fill="#e4e4e4" />
<rect x="13" y="74" width="2" height="1" fill="#fff" />
<rect x="16" y="67" width="2" height="1" fill="#fff" />
<rect x="16" y="69" width="2" height="4" fill="#fff" />
<rect x="16" y="74" width="2" height="1" fill="#fff" />
<rect x="19" y="67" width="2" height="1" fill="#fff" />
<rect x="19" y="69" width="2" height="4" fill="#fff" />
<rect x="19" y="74" width="2" height="1" fill="#fff" />
<polyline points="14.5,664.2 33.5,662.1 52.5,650.4 72.5,658.3 91.5,658.8 111.5,665.0 130.5,668.4 150.5,672.2 169.5,680.2 189.5,665.5 208.5,666.3 228.5,663.8 247.5,663.0 267.5,660.0 286.5,653.7 305.5,648.3 325.5,648.3 344.5,651.2 364.5,649.5 383.5,651.2 403.5,650.0 422.5,645.3 442.5,650.0 461.5,652.0 481.5,655.0 500.5,659.2 520.5,637.8 539.5,617.2 558.5,624.4 578.5,637.8 597.5,637.0 617.5,650.8 636.5,661.3 656.5,660.0 675.5,673.4 695.5,660.4 714.5,664.2 734.5,671.3 753.5,670.0 772.5,674.3 792.5,677.2 811.5,670.5 831.5,652.0 850.5,664.2 870.5,675.0 889.5,673.9 909.5,684.3 928.5,683.0 948.5,677.2 967.5,677.2 987.5,675.0 1006.5,679.3 1025.5,680.6 1045.5,679.3 1064.5,677.6 1084.5,678.5 1103.5,673.0 1123.5,668.4 1142.5,669.2 1162.5,672.2 1181.5,673.4 1201.5,672.2 1220.5,672.2" fill="none" stroke="#7064c8" stroke-width="1" />
<polyline points="14.5,670.5 33.5,677.2 52.5,677.2 72.5,664.6 91.5,656.7 111.5,656.2 130.5,655.4 150.5,654.1 169.5,655.0 189.5,653.7 208.5,652.0 228.5,648.7 247.5,637.0 267.5,632.0 286.5,640.3 305.5,649.5 325.5,655.0 344.5,656.7 364.5,660.4 383.5,657.0 403.5,658.3 422.5,662.0 442.5,664.2 461.5,673.0 481.5,680.2 500.5,681.4 520.5,678.5 539.5,679.3 558.5,679.7 578.5,684.0 597.5,679.3 617.5,680.2 636.5,679.3 656.5,673.0 675.5,668.4 695.5,663.4 714.5,647.4 734.5,648.3 753.5,644.5 772.5,644.5 792.5,645.3 811.5,641.6 831.5,643.2 850.5,637.4 870.5,631.0 889.5,626.5 909.5,625.2 928.5,625.2 948.5,628.1 967.5,625.2 987.5,623.1 1006.5,621.8 1025.5,619.3 1045.5,620.2 1064.5,618.5 1084.5,618.5 1103.5,616.8 1123.5,619.3 1142.5,621.4 1162.5,622.3 1181.5,621.4 1201.5,622.3 1220.5,622.3" fill="none" stroke="#961e32" stroke-width="1" />
<rect x="8" y="602" width="5" height="7" fill="#8c8c8c" />
<rect x="9" y="603" width="3" height="5" fill="#bdbdbd" />
<text x="18" y="610" font-size="13" fill="#7064c8" textLength="93.5" lengthAdjust="spacingAndGlyphs" >외국인보유비중</text>
<rect x="116" y="602" width="5" height="7" fill="#8c8c8c" />
<rect x="117" y="603" width="3" height="5" fill="#bdbdbd" />
<text x="125" y="610" font-size="13" fill="#961e32" textLength="80.5" lengthAdjust="spacingAndGlyphs" >기관보유수량</text>
<rect x="6" y="801" width="17" height="4" fill="#e5190a" />
<rect x="25" y="797" width="17" height="8" fill="#e5190a" />
<rect x="44" y="798" width="17" height="7" fill="#125acc" />
<rect x="64" y="794" width="17" height="11" fill="#e5190a" />
<rect x="83" y="795" width="17" height="10" fill="#125acc" />
<rect x="103" y="780" width="17" height="25" fill="#e5190a" />
<rect x="122" y="796" width="17" height="9" fill="#125acc" />
<rect x="142" y="794" width="17" height="11" fill="#e5190a" />
<rect x="161" y="753" width="17" height="52" fill="#e5190a" />
<rect x="181" y="719" width="17" height="86" fill="#e5190a" />
<rect x="200" y="765" width="17" height="40" fill="#125acc" />
<rect x="220" y="779" width="17" height="26" fill="#125acc" />
<rect x="239" y="780" width="17" height="25" fill="#125acc" />
<rect x="259" y="789" width="17" height="16" fill="#125acc" />
<rect x="278" y="777" width="17" height="28" fill="#e5190a" />
<rect x="297" y="782" width="17" height="23" fill="#125acc" />
<rect x="317" y="792" width="17" height="13" fill="#125acc" />
<rect x="336" y="797" width="17" height="8" fill="#125acc" />
<rect x="356" y="793" width="17" height="12" fill="#e5190a" />
<rect x="375" y="797" width="17" height="8" fill="#125acc" />
<rect x="395" y="798" width="17" height="7" fill="#125acc" />
<rect x="414" y="797" width="17" height="8" fill="#e5190a" />
<rect x="434" y="798" width="17" height="7" fill="#125acc" />
<rect x="453" y="790" width="17" height="15" fill="#e5190a" />
<rect x="473" y="790" width="17" height="15" fill="#e5190a" />
<rect x="492" y="788" width="17" height="17" fill="#e5190a" />
<rect x="512" y="759" width="17" height="46" fill="#e5190a" />
<rect x="531" y="761" width="17" height="44" fill="#125acc" />
<rect x="550" y="790" width="17" height="15" fill="#125acc" />
<rect x="570" y="791" width="17" height="14" fill="#125acc" />
<rect x="589" y="788" width="17" height="17" fill="#e5190a" />
<rect x="609" y="795" width="17" height="10" fill="#125acc" />
<rect x="628" y="794" width="17" height="11" fill="#e5190a" />
<rect x="648" y="795" width="17" height="10" fill="#125acc" />
<rect x="667" y="774" width="17" height="31" fill="#e5190a" />
<rect x="687" y="769" width="17" height="36" fill="#e5190a" />
<rect x="706" y="788" width="17" height="17" fill="#125acc" />
<rect x="726" y="793" width="17" height="12" fill="#125acc" />
<rect x="745" y="791" width="17" height="14" fill="#e5190a" />
<rect x="764" y="797" width="17" height="8" fill="#125acc" />
<rect x="784" y="797" width="17" height="8" fill="#e5190a" />
<rect x="803" y="794" width="17" height="11" fill="#e5190a" />
<rect x="823" y="765" width="17" height="40" fill="#e5190a" />
<rect x="842" y="791" width="17" height="14" fill="#125acc" />
<rect x="862" y="793" width="17" height="12" fill="#125acc" />
<rect x="881" y="794" width="17" height="11" fill="#125acc" />
<rect x="901" y="795" width="17" height="10" fill="#125acc" />
<rect x="920" y="797" width="17" height="8" fill="#125acc" />
<rect x="940" y="793" width="17" height="12" fill="#e5190a" />
<rect x="959" y="799" width="17" height="6" fill="#125acc" />
<rect x="979" y="791" width="17" height="14" fill="#e5190a" />
<rect x="998" y="798" width="17" height="7" fill="#125acc" />
<rect x="1017" y="799" width="17" height="6" fill="#125acc" />
<rect x="1037" y="798" width="17" height="7" fill="#e5190a" />
<rect x="1056" y="801" width="17" height="4" fill="#125acc" />
<rect x="1076" y="801" width="17" height="4" fill="#125acc" />
<rect x="1095" y="800" width="17" height="5" fill="#125acc" />
<rect x="1115" y="800" width="17" height="5" fill="#e5190a" />
<rect x="1134" y="802" width="17" height="3" fill="#125acc" />
<rect x="1154" y="800" width="17" height="5" fill="#e5190a" />
<rect x="1173" y="802" width="17" height="3" fill="#125acc" />
<rect x="1193" y="802" width="17" height="3" fill="#125acc" />
<rect x="1212" y="802" width="17" height="3" fill="#125acc" />
<polyline points="14.2,802.4 42.6,801.6 71.0,798.7 93.8,795.9 113.7,793.6 147.8,793.0 167.7,785.4 187.6,769.5 204.6,766.0 227.3,762.6 246.7,759.2 265.7,766.0 284.2,776.8 304.0,781.7 324.0,784.5 343.8,787.6 363.7,788.2 383.6,791.6 403.5,795.0 411.4,796.4 456.8,796.7 479.6,795.0 502.3,791.6 522.2,784.5 539.2,777.7 599.0,778.3 616.0,784.5 635.9,789.6 650.0,792.5 661.4,792.5 675.6,789.6 695.5,786.0 712.6,786.0 743.9,783.7 753.8,783.7 772.3,788.8 792.2,793.0 803.5,794.5 820.0,793.0 829.9,789.3 858.3,789.3 909.5,788.8 929.4,794.5 946.4,794.5 966.3,795.9 1014.6,795.9 1037.3,797.3 1065.8,799.3 1094.2,800.7 1151.0,801.6 1219.8,802.1" fill="none" stroke="#e614b4" stroke-width="1" />
<polyline points="14.2,791.6 31.3,792.5 51.2,795.6 85.3,795.9 113.7,795.9 170.5,795.3 187.6,791.6 204.6,790.2 227.3,788.8 255.8,788.2 284.2,786.5 341.0,785.4 363.7,784.5 420.0,784.5 471.0,783.7 508.0,783.0 522.2,781.7 542.0,780.3 559.0,783.0 576.0,786.5 599.0,787.4 627.3,788.0 684.2,788.0 701.0,786.5 741.0,787.4 797.8,788.2 820.0,786.5 827.0,785.0 895.0,786.5 903.8,788.0 923.7,790.2 980.5,790.8 1054.4,791.6 1080.0,794.5 1114.0,795.3 1170.9,795.3 1205.0,796.7 1219.8,798.7" fill="none" stroke="#eca800" stroke-width="1" />
<polyline points="14.2,776.6 42.6,775.7 119.4,775.7 125.0,776.6 159.0,776.0 182.0,774.6 199.0,774.6 221.7,772.9 241.5,774.0 284.2,774.6 326.8,774.6 343.8,777.4 375.0,779.4 411.4,780.3 471.0,780.3 476.7,781.0 519.4,781.7 559.0,781.7 576.0,783.7 627.3,783.7 635.9,786.0 684.2,785.4 707.0,786.0 755.0,787.4 820.0,787.6 895.0,787.4 938.0,788.8 980.5,789.6 1219.8,789.3" fill="none" stroke="#1e9a46" stroke-width="1" />
<polyline points="14.2,788.2 420.0,786.5 513.7,785.4 627.3,784.8 820.0,784.0 975.0,784.0 978.0,782.6 1220.0,782.6" fill="none" stroke="#707070" stroke-width="1" />
<rect x="8" y="701" width="5" height="7" fill="#8c8c8c" />
<rect x="9" y="702" width="3" height="5" fill="#bdbdbd" />
<text x="19" y="710" font-size="13" fill="#2a8a96" textLength="40" lengthAdjust="spacingAndGlyphs" >거래량</text>
<text x="66.5" y="710" font-size="13" fill="#e61eb4" textLength="26" lengthAdjust="spacingAndGlyphs" >단순</text>
<text x="96.5" y="710" font-size="14.5" fill="#e61eb4" textLength="6.5" lengthAdjust="spacingAndGlyphs" >5</text>
<text x="111" y="710" font-size="14.5" fill="#f0a000" textLength="14" lengthAdjust="spacingAndGlyphs" >20</text>
<text x="133.5" y="710" font-size="14.5" fill="#1e9a3c" textLength="14" lengthAdjust="spacingAndGlyphs" >60</text>
<text x="155.5" y="710" font-size="14.5" fill="#707070" textLength="20.5" lengthAdjust="spacingAndGlyphs" >120</text>
<text x="10" y="719.5" font-size="11.5" fill="#202020" textLength="95" lengthAdjust="spacingAndGlyphs" >209,885주(97,23%)</text>
</svg>
</body></html>
